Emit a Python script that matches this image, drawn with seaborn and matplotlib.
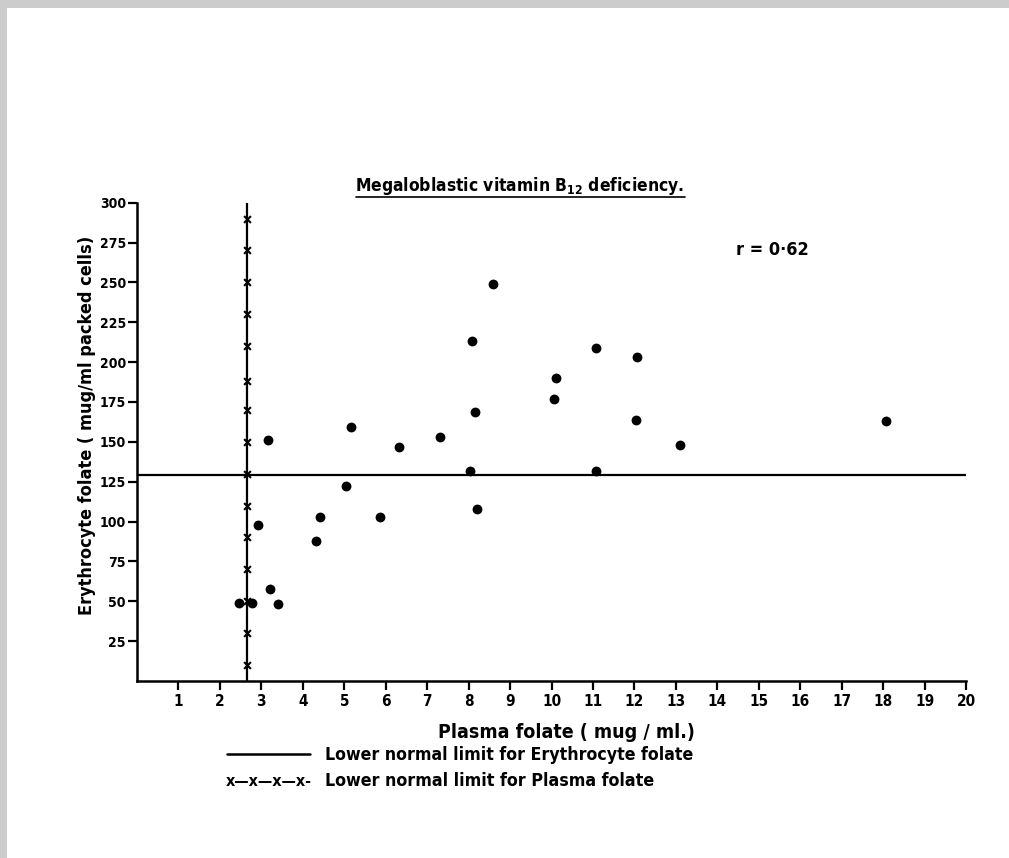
import matplotlib
matplotlib.use("Agg")
import matplotlib.pyplot as plt
from matplotlib.patches import Rectangle
from matplotlib.lines import Line2D
import seaborn as sns
import pandas as pd

# ---- data ----
plasma_folate = [2.45, 2.78, 2.93, 3.17, 3.20, 3.41, 4.32, 4.42, 5.04, 5.16, 5.85,
                 6.31, 7.32, 8.04, 8.08, 8.16, 8.20, 8.59, 10.06, 10.10, 11.08,
                 11.08, 12.05, 12.07, 13.10, 18.08]
erythrocyte_folate = [49, 49, 98, 151, 58, 48, 88, 103, 122, 159, 103,
                      147, 153, 132, 213, 169, 108, 249, 177, 190, 132,
                      209, 164, 203, 148, 163]
erythrocyte_limit = 129          # lower normal limit, erythrocyte folate
plasma_limit = 2.66              # lower normal limit, plasma folate
plasma_limit_marks = [10, 30, 50, 70, 90, 110, 130, 150, 170, 188, 210, 230, 250, 270, 290]
x_ticks = list(range(1, 21))
y_ticks = list(range(25, 301, 25))
r_value = "r = 0·62"

sns.set_style("ticks")
plt.rcParams["font.family"] = ["DejaVu Sans"]
plt.rcParams["font.stretch"] = "condensed"
plt.rcParams["font.weight"] = "bold"
plt.rcParams["text.color"] = "black"
plt.rcParams["xtick.color"] = "black"
plt.rcParams["ytick.color"] = "black"
plt.rcParams["mathtext.fontset"] = "custom"
plt.rcParams["mathtext.rm"] = "DejaVu Sans:bold"
plt.rcParams["mathtext.bf"] = "DejaVu Sans:bold"

fig = plt.figure(figsize=(10.09, 8.58), dpi=100)
fig.patch.set_facecolor("white")
# scanned-page grey edge
fig.patches.append(Rectangle((0, 1 - 8 / 858), 1, 8 / 858, transform=fig.transFigure,
                             facecolor="#cccccc", edgecolor="none", zorder=0))
fig.patches.append(Rectangle((0, 0), 7 / 1009, 1, transform=fig.transFigure,
                             facecolor="#cccccc", edgecolor="none", zorder=0))

ax = fig.add_axes([0.1358, 0.2063, 0.8216, 0.5575])
df = pd.DataFrame({"plasma": plasma_folate, "ery": erythrocyte_folate})
sns.scatterplot(data=df, x="plasma", y="ery", ax=ax, color="black", s=50,
                edgecolor="black", linewidth=0, zorder=3)

ax.axhline(erythrocyte_limit, color="black", lw=1.6, zorder=2)
ax.axvline(plasma_limit, color="black", lw=1.6, zorder=2)
marks = pd.DataFrame({"x": [plasma_limit] * len(plasma_limit_marks), "y": plasma_limit_marks})
sns.scatterplot(data=marks, x="x", y="y", ax=ax, marker="x", color="black", s=24,
                linewidth=1.5, zorder=3)

ax.set_xlim(0, 20)
ax.set_ylim(0, 300)
ax.set_xticks(x_ticks)
ax.set_xticklabels([str(t) for t in x_ticks])
ax.set_yticks(y_ticks)
ax.set_yticklabels([str(t) for t in y_ticks])
ax.tick_params(direction="out", length=6.5, width=1.6, color="black", labelcolor="black")
ax.tick_params(axis="x", labelsize=11, pad=3)
ax.tick_params(axis="y", labelsize=10, pad=1.5)
for lab in ax.get_xticklabels() + ax.get_yticklabels():
    lab.set_fontweight("bold")
    lab.set_fontstretch("condensed")
for side in ["top", "right"]:
    ax.spines[side].set_visible(False)
for side in ["left", "bottom"]:
    ax.spines[side].set_linewidth(1.8)
    ax.spines[side].set_color("black")
ax.set_xlabel("")
ax.set_ylabel("")

kw = dict(fontweight="bold", fontstretch="condensed", color="black")
fig.text(87 / 1009, 1 - 425 / 858, "Erythrocyte folate ( mug/ml packed cells)",
         rotation=90, ha="center", va="center", fontsize=13, **kw)
fig.text(566 / 1009, 1 - 733 / 858, "Plasma folate ( mug / ml.)",
         ha="center", va="center", fontsize=14, **kw)

fig.text(520 / 1009, 1 - 186 / 858, r"Megaloblastic vitamin B$_{\mathbf{12}}$ deficiency.",
         ha="center", va="center", fontsize=12.5, **kw)
fig.add_artist(Line2D([356 / 1009, 685 / 1009], [1 - 197 / 858, 1 - 197 / 858],
                      transform=fig.transFigure, color="black", lw=1.2))

fig.text(772 / 1009, 1 - 250 / 858, r_value, ha="center", va="center",
         fontsize=13, **kw)

# legend
fig.add_artist(Line2D([227 / 1009, 310 / 1009], [1 - 754 / 858, 1 - 754 / 858],
                      transform=fig.transFigure, color="black", lw=1.8))
fig.text(325 / 1009, 1 - 755 / 858, "Lower normal limit for Erythrocyte folate",
         ha="left", va="center", fontsize=12.7, **kw)
fig.text(226 / 1009, 1 - 781 / 858, "x—x—x—x-", ha="left", va="center",
         fontsize=11.5, **kw)
fig.text(325 / 1009, 1 - 781 / 858, "Lower normal limit for Plasma folate",
         ha="left", va="center", fontsize=12.8, **kw)

fig.savefig("out.png", dpi=100, facecolor="white")
